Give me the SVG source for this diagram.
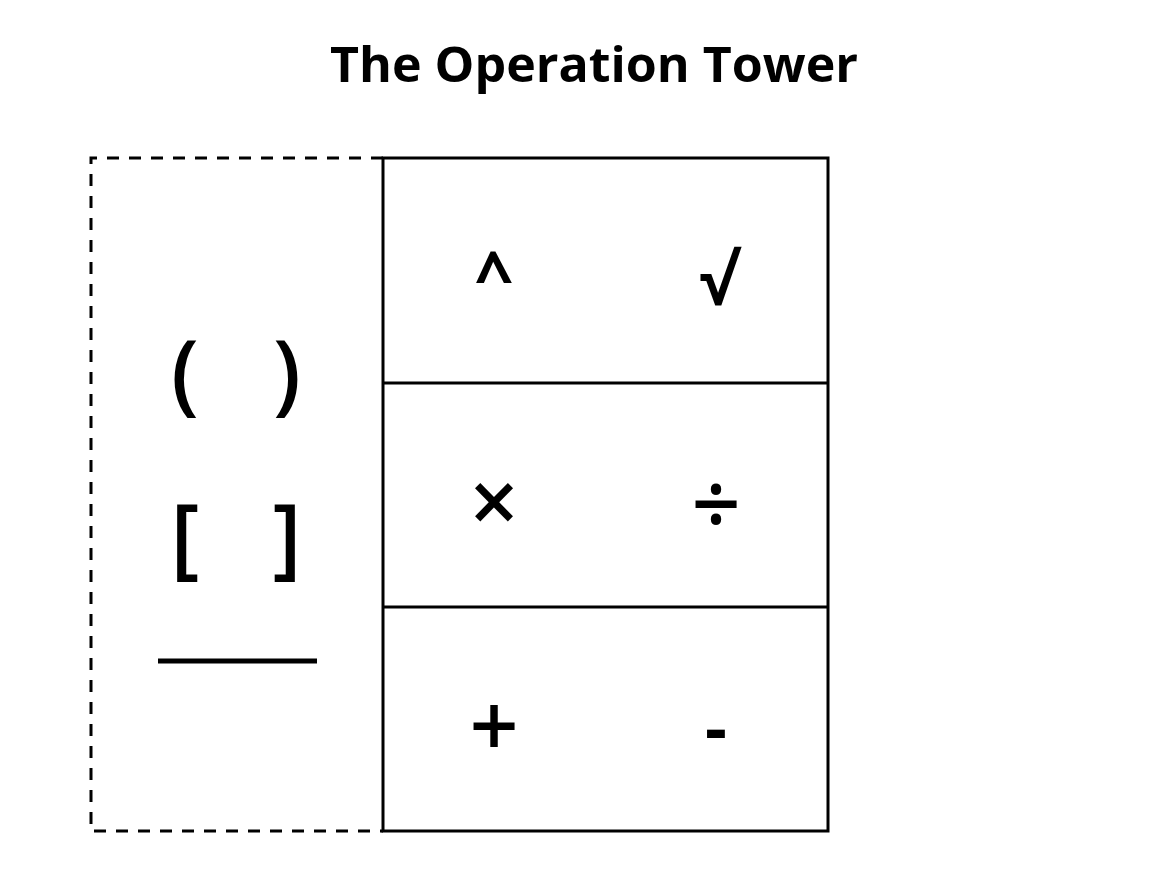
<svg xmlns="http://www.w3.org/2000/svg" width="1166" height="875" viewBox="0 0 1166 875">
<style>
.t{font-family:"Open Sans","Liberation Sans",sans-serif;fill:#000;text-anchor:middle}
.s{font-size:68px;font-weight:bold}
.o{font-size:86px;font-weight:600}
.p{font-size:88px;font-weight:600}
.b{stroke:#000;stroke-width:3;fill:none}
</style>
<rect width="1166" height="875" fill="#fff"/>
<text class="t" x="594" y="82" font-size="48" font-weight="bold" textLength="528" lengthAdjust="spacingAndGlyphs">The Operation Tower</text>
<g id="brackets">
<path class="b" d="M383,158 H91 V831 H383" stroke-dasharray="12,10"/>
<text class="t p" x="185" y="404">(</text>
<text class="t p" x="287" y="404">)</text>
<text class="t p" x="185" y="568">[</text>
<text class="t p" x="287" y="568">]</text>
<line x1="158" y1="661" x2="317" y2="661" stroke="#000" stroke-width="5"/>
</g>
<g id="tower">
<rect class="b" x="383" y="158" width="445" height="673"/>
<line class="b" x1="383" y1="383" x2="828" y2="383"/>
<line class="b" x1="383" y1="607" x2="828" y2="607"/>
</g>
<g id="exponents">
<text class="t s" x="494" y="300">^</text>
<text class="t s" x="718" y="305">√</text>
</g>
<g id="muldiv">
<text class="t o" x="494" y="533">×</text>
<text class="t o" x="716" y="535">÷</text>
</g>
<g id="addsub">
<text class="t o" x="494" y="757">+</text>
<text class="t s" x="716" y="752">-</text>
</g>
<g id="connectors"/>
</svg>
